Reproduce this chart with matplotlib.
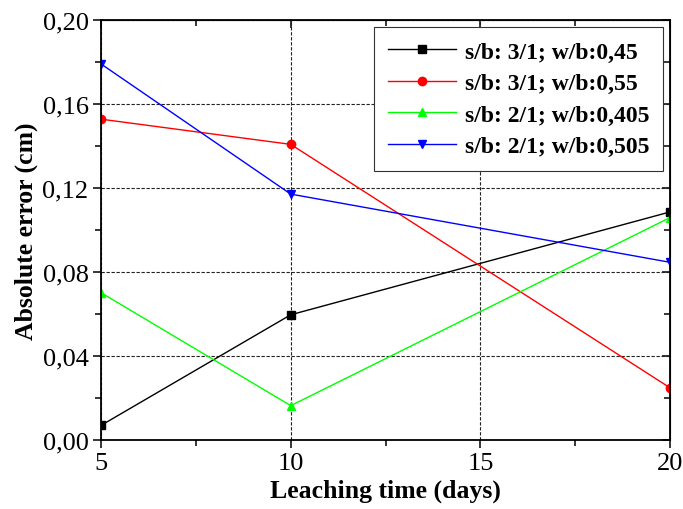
import numpy as np
import matplotlib
matplotlib.use("Agg")
import matplotlib.pyplot as plt
from matplotlib.ticker import MultipleLocator, FuncFormatter

plt.rcParams['font.family'] = ['Liberation Serif', 'DejaVu Serif']

days = [5, 10, 20]
err_31_045 = [0.0068, 0.0595, 0.1085]
err_31_055 = [0.1527, 0.1407, 0.0247]
err_21_0405 = [0.0700, 0.0162, 0.1058]
err_21_0505 = [0.1790, 0.1170, 0.0845]
labels = ['s/b: 3/1; w/b:0,45', 's/b: 3/1; w/b:0,55',
          's/b: 2/1; w/b:0,405', 's/b: 2/1; w/b:0,505']

fig = plt.figure(figsize=(6.83, 5.10), dpi=100)
ax = fig.add_axes([0.148, 0.136, 0.833, 0.823])

series = [err_31_045, err_31_055, err_21_0405, err_21_0505]
colors = ['black', 'red', '#00ff00', 'blue']
markers = ['s', 'o', '^', 'v']
for vals, c, m, lab in zip(series, colors, markers, labels):
	ax.plot(days, vals, color=c, marker=m, markersize=6, lw=1, label=lab)

ax.set_xlim(5, 20)
ax.set_ylim(0, 0.20)
ax.xaxis.set_major_locator(MultipleLocator(5))
ax.xaxis.set_minor_locator(MultipleLocator(2.5))
ax.yaxis.set_major_locator(MultipleLocator(0.04))
ax.yaxis.set_minor_locator(MultipleLocator(0.02))
ax.yaxis.set_major_formatter(FuncFormatter(lambda v, p: ('%.2f' % v).replace('.', ',')))
ax.grid(True, which='major', color='#222222', ls=(0, (3, 1.5)), lw=0.8)

ax.tick_params(which='both', direction='out', labelsize=19, width=1.1, pad=3)
ax.tick_params(which='major', length=6)
ax.tick_params(which='minor', length=4)

# top and right: ticks pointing inwards, no labels
sx = ax.secondary_xaxis('top')
sy = ax.secondary_yaxis('right')
sx.xaxis.set_major_locator(MultipleLocator(5))
sx.xaxis.set_minor_locator(MultipleLocator(2.5))
sy.yaxis.set_major_locator(MultipleLocator(0.04))
sy.yaxis.set_minor_locator(MultipleLocator(0.02))
for sec in (sx, sy):
	sec.tick_params(which='both', direction='in', width=1.1,
		labeltop=False, labelright=False)
	sec.tick_params(which='major', length=6)
	sec.tick_params(which='minor', length=4)

for s in ax.spines.values():
	s.set_linewidth(1.3)

ax.set_xlabel('Leaching time (days)', fontsize=18.5, fontweight='bold', labelpad=3)
ax.set_ylabel('Absolute error (cm)', fontsize=18.5, fontweight='bold', labelpad=3)

leg = ax.legend(loc='upper right', prop={'weight': 'bold', 'size': 17},
	fancybox=False, edgecolor='#333333', framealpha=1, handlelength=2.9,
	handletextpad=0.35, borderpad=0.6, labelspacing=0.42, borderaxespad=0,
	bbox_to_anchor=(0.988, 0.983))
leg.get_frame().set_linewidth(0.8)

fig.savefig('out.png', dpi=100)
